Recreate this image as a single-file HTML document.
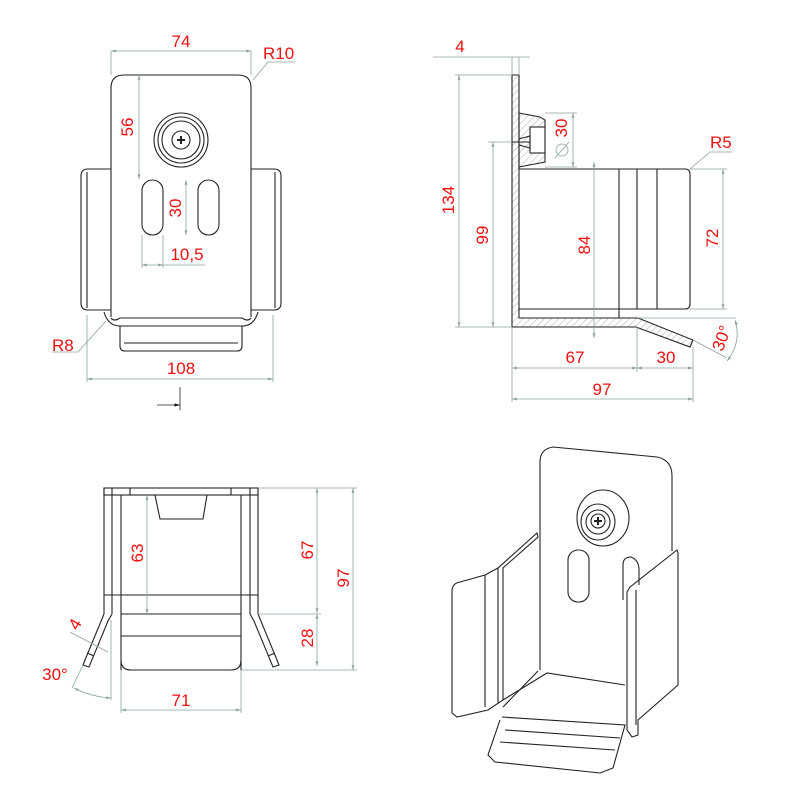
<!DOCTYPE html>
<html><head><style>body{margin:0;background:#fff}svg{display:block}text{font-family:"Liberation Sans",sans-serif;fill:#f01010;font-size:17px}</style></head><body>
<svg width="800" height="800" viewBox="0 0 800 800" xmlns="http://www.w3.org/2000/svg">
<defs>
<marker id="a" viewBox="0 0 10 10" refX="10" refY="5" markerWidth="6" markerHeight="6" orient="auto-start-reverse"><path d="M0,2L10,5L0,8z" fill="#8aa39a"/></marker>
<marker id="b" viewBox="0 0 10 10" refX="10" refY="5" markerWidth="7" markerHeight="7" orient="auto"><path d="M0,2L10,5L0,8z" fill="#111"/></marker>
<pattern id="h" width="5" height="5" patternUnits="userSpaceOnUse" patternTransform="rotate(45)"><line x1="0" y1="0" x2="0" y2="5" stroke="#777" stroke-width="0.6"/></pattern>
</defs>
<g fill="none" stroke="#222" stroke-width="1.1">
<path d="M111,317V88Q111,75 124,75H238Q251,75 251,88V317"/>
<path d="M111,169H88Q81,169 81,176V303Q81,310 88,310H111"/><line x1="87" y1="172" x2="87" y2="308"/>
<path d="M251,169H274Q281,169 281,176V303Q281,310 274,310H251"/><line x1="275" y1="172" x2="275" y2="308"/>
<path d="M104,312Q108,326 120,326H242Q254,326 258,312"/><path d="M111,318Q114,322 120,318H242Q248,322 251,318"/>
<path d="M120,326V346Q120,351 125,351H237Q242,351 242,346V326"/><line x1="124" y1="343" x2="238" y2="343"/>
<circle cx="181" cy="140" r="27"/><circle cx="181" cy="140" r="23"/><circle cx="181" cy="140" r="19"/><circle cx="181" cy="140" r="9"/>
<path d="M177,140h8M181,136v8" stroke-width="2"/>
<rect x="142" y="180" width="21" height="55" rx="10.5"/><rect x="198" y="180" width="21" height="55" rx="10.5"/>
<path d="M512,75H519V318H638L693,340L690,347L636,327H512Z" fill="url(#h)"/>
<path d="M519,113L540,117L545,120V162L540,163L519,167Z" fill="url(#h)"/>
<rect x="530" y="127" width="15" height="26" fill="#fff"/>
<path d="M512,142H530M519,139L530,136V148L519,145"/>
<path d="M519,169H685Q690,169 690,174V304Q690,309 685,309H519"/>
<line x1="619" y1="169" x2="619" y2="318"/><line x1="637" y1="169" x2="637" y2="309"/><line x1="657" y1="169" x2="657" y2="309"/>
<line x1="519" y1="309" x2="619" y2="309"/>
<rect x="104" y="488" width="154" height="7"/>
<line x1="112" y1="488" x2="112" y2="614"/><line x1="121" y1="495" x2="121" y2="670"/><line x1="241" y1="495" x2="241" y2="670"/><line x1="250" y1="488" x2="250" y2="614"/>
<line x1="130" y1="488" x2="130" y2="495"/><line x1="231" y1="488" x2="231" y2="495"/>
<path d="M155,495L160,519H203L207,495"/>
<line x1="104" y1="595" x2="258" y2="595"/><line x1="121" y1="614" x2="241" y2="614"/><line x1="121" y1="636" x2="241" y2="636"/>
<path d="M121,660Q121,670 131,670H231Q241,670 241,660"/>
<path d="M104,488V614L85,660L83,665L89,667L108,621L112,614"/><line x1="87" y1="653" x2="94" y2="656"/>
<path d="M258,488V614L277,660L279,665L273,667L254,621L250,614"/><line x1="275" y1="653" x2="268" y2="656"/>
<path d="M540,670V462Q540,449 553,447L657,457Q672,460 672,476V551"/>
<ellipse cx="603" cy="518" rx="26" ry="28"/><ellipse cx="598" cy="522" rx="17" ry="18"/><ellipse cx="598" cy="522" rx="12" ry="12"/><ellipse cx="598" cy="521" rx="7" ry="7"/>
<path d="M594,521h8M598,517v8" stroke-width="2"/>
<rect x="568" y="550" width="21" height="52" rx="10"/>
<path d="M623,600V565Q623,557 631,557Q639,560 639,570V585"/>
<path d="M452,713V590Q453,583 460,582L485,575L498,568L537,533L538,537L503,568V700L488,710L457,717Z"/>
<line x1="485" y1="575" x2="485" y2="707"/><line x1="498" y1="568" x2="498" y2="703"/>
<path d="M630,587L677,550L678,553V685L638,720V735L632,737L627,730V592Z"/><line x1="636" y1="590" x2="636" y2="725"/>
<path d="M502,717L625,725L613,768L600,773L495,762L488,755L500,720"/><line x1="505" y1="730" x2="620" y2="738"/><line x1="500" y1="742" x2="615" y2="750"/>
<path d="M503,700L547,673L625,685"/><path d="M538,671L503,707"/>
</g>
<g fill="none" stroke="#8aa39a" stroke-width="0.8">
<path d="M111,51V75M251,51V75"/><line x1="111" y1="51" x2="251" y2="51" marker-start="url(#a)" marker-end="url(#a)"/>
<path d="M253,80L268,62H295"/>
<line x1="139" y1="75" x2="139" y2="179" marker-start="url(#a)" marker-end="url(#a)"/>
<line x1="186" y1="180" x2="186" y2="235" marker-start="url(#a)" marker-end="url(#a)"/>
<path d="M142,235V268M163,235V268M163,265H205"/><line x1="142" y1="265" x2="163" y2="265" marker-start="url(#a)" marker-end="url(#a)"/>
<path d="M106,321L78,352H52"/>
<path d="M87,315V382M273,315V382"/><line x1="87" y1="379" x2="273" y2="379" marker-start="url(#a)" marker-end="url(#a)"/>
<path d="M180,387V410" stroke="#222"/><path d="M157,405H180" stroke="#222" marker-end="url(#b)"/>
<path d="M512,57V75M519,57V75M433,57H530"/>
<path d="M455,75H512M455,327H512M488,142H512"/>
<line x1="459" y1="75" x2="459" y2="327" marker-start="url(#a)" marker-end="url(#a)"/>
<line x1="493" y1="142" x2="493" y2="327" marker-start="url(#a)" marker-end="url(#a)"/>
<path d="M545,113H577M545,167H577"/><line x1="573" y1="113" x2="573" y2="167" marker-start="url(#a)" marker-end="url(#a)"/>
<circle cx="562" cy="150" r="6"/><path d="M555,158L569,142"/>
<line x1="594" y1="162" x2="594" y2="338" marker-start="url(#a)" marker-end="url(#a)"/>
<path d="M690,169L710,152H732"/>
<path d="M690,169H727M690,309H727"/><line x1="723" y1="169" x2="723" y2="309" marker-start="url(#a)" marker-end="url(#a)"/>
<path d="M693,340L727,358M638,318H736"/><path d="M735,320Q742,342 727,361" marker-start="url(#a)" marker-end="url(#a)"/>
<path d="M512,327V402M637,327V372M693,347V402"/>
<line x1="512" y1="368" x2="637" y2="368" marker-start="url(#a)" marker-end="url(#a)"/>
<line x1="637" y1="368" x2="693" y2="368" marker-start="url(#a)" marker-end="url(#a)"/>
<line x1="512" y1="399" x2="693" y2="399" marker-start="url(#a)" marker-end="url(#a)"/>
<line x1="147" y1="495" x2="147" y2="614" marker-start="url(#a)" marker-end="url(#a)"/>
<path d="M258,488H357M258,614H321M241,670H357"/>
<line x1="317" y1="488" x2="317" y2="613" marker-start="url(#a)" marker-end="url(#a)"/>
<line x1="317" y1="614" x2="317" y2="666" marker-start="url(#a)" marker-end="url(#a)"/>
<line x1="353" y1="488" x2="353" y2="670" marker-start="url(#a)" marker-end="url(#a)"/>
<path d="M121,670V713M241,670V713"/><line x1="121" y1="710" x2="241" y2="710" marker-start="url(#a)" marker-end="url(#a)"/>
<path d="M70,632L108,652M83,665L72,688M111,620V700"/><path d="M74,688Q92,697 111,698" marker-start="url(#a)" marker-end="url(#a)"/>
</g>
<g>
<text x="181" y="47" text-anchor="middle">74</text>
<text x="263" y="59">R10</text>
<text transform="translate(133,127) rotate(-90)" text-anchor="middle">56</text>
<text transform="translate(181,208) rotate(-90)" text-anchor="middle">30</text>
<text x="187" y="260" text-anchor="middle">10,5</text>
<text x="52" y="351">R8</text>
<text x="181" y="374" text-anchor="middle">108</text>
<text x="460" y="52" text-anchor="middle">4</text>
<text transform="translate(454,200) rotate(-90)" text-anchor="middle">134</text>
<text transform="translate(488,235) rotate(-90)" text-anchor="middle">99</text>
<text transform="translate(567,128) rotate(-90)" text-anchor="middle">30</text>
<text transform="translate(590,245) rotate(-90)" text-anchor="middle">84</text>
<text x="710" y="148">R5</text>
<text transform="translate(718,238) rotate(-90)" text-anchor="middle">72</text>
<text transform="translate(727,340) rotate(-70)" text-anchor="middle">30°</text>
<text x="575" y="363" text-anchor="middle">67</text>
<text x="666" y="363" text-anchor="middle">30</text>
<text x="602" y="395" text-anchor="middle">97</text>
<text transform="translate(143,553) rotate(-90)" text-anchor="middle">63</text>
<text transform="translate(313,550) rotate(-90)" text-anchor="middle">67</text>
<text transform="translate(349,578) rotate(-90)" text-anchor="middle">97</text>
<text transform="translate(313,638) rotate(-90)" text-anchor="middle">28</text>
<text x="181" y="706" text-anchor="middle">71</text>
<text transform="translate(80,627) rotate(-60)" text-anchor="middle">4</text>
<text x="55" y="680" text-anchor="middle">30°</text>
</g>
</svg>
</body></html>
